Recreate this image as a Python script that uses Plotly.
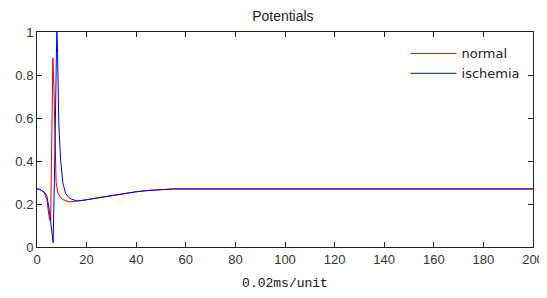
import plotly.graph_objects as go

# Data (x in 0.02 ms units)
normal_x = [0, 1, 2, 3, 4, 4.5, 5, 5.5, 6, 6.4, 6.8, 7.2, 7.7, 8.5, 9.5, 10.5, 11.5, 13, 15, 18, 20, 25, 30, 35, 40, 45, 50, 55, 200]
normal_y = [0.27, 0.268, 0.262, 0.25, 0.22, 0.18, 0.13, 0.12, 0.45, 0.88, 0.75, 0.5, 0.3, 0.25, 0.23, 0.22, 0.215, 0.21, 0.212, 0.216, 0.22, 0.23, 0.24, 0.25, 0.257, 0.263, 0.268, 0.27, 0.27]

ischemia_x = [0, 1, 2, 3, 4, 4.5, 5, 5.5, 6, 6.5, 7, 7.5, 8, 8.3, 8.8, 9.5, 10.4, 11.5, 12.8, 14, 16, 18, 20, 25, 30, 35, 40, 45, 50, 55, 200]
ischemia_y = [0.27, 0.268, 0.262, 0.255, 0.235, 0.21, 0.17, 0.12, 0.06, 0.02, 0.3, 0.7, 1.02, 0.9, 0.57, 0.41, 0.30, 0.25, 0.23, 0.222, 0.215, 0.216, 0.22, 0.23, 0.24, 0.25, 0.257, 0.263, 0.268, 0.27, 0.27]

x_ticks = [0, 20, 40, 60, 80, 100, 120, 140, 160, 180, 200]
y_ticks = [0, 0.2, 0.4, 0.6, 0.8, 1]
y_tick_text = ["0", "0.2", "0.4", "0.6", "0.8", "1"]

fig = go.Figure()
fig.add_trace(go.Scatter(x=normal_x, y=normal_y, mode="lines", name="normal",
                         line=dict(color="#e00000", width=1)))
fig.add_trace(go.Scatter(x=ischemia_x, y=ischemia_y, mode="lines", name="ischemia",
                         line=dict(color="#0000e0", width=1)))

axis_common = dict(showgrid=False, zeroline=False, showline=True, linecolor="#222",
                   linewidth=1, mirror="ticks", ticks="inside", ticklen=5, automargin=False,
                   tickcolor="#222", tickfont=dict(family="Liberation Sans, Arial", size=13, color="#333"))

# page body adds an 8px offset, so the figure is 8px smaller on each axis
fig.update_layout(
    width=539, height=290,
    margin=dict(l=29, r=14, t=24, b=51),
    paper_bgcolor="white", plot_bgcolor="white",
    title=dict(text="Potentials", x=0.51, xanchor="center", y=0.972, yanchor="middle",
               automargin=False,
               font=dict(family="Liberation Sans, Arial", size=14, color="#222")),
    xaxis=dict(range=[0, 200], tickvals=x_ticks,
               title=dict(text="0.02ms/unit", standoff=12,
                          font=dict(family="Liberation Mono, Courier New", size=13, color="#111")),
               **axis_common),
    yaxis=dict(range=[0, 1], tickvals=y_ticks, ticktext=y_tick_text, **axis_common),
    legend=dict(x=0.985, xanchor="right", y=0.97, yanchor="top", bgcolor="rgba(255,255,255,0)",
                borderwidth=0, itemwidth=46,
                font=dict(family="DejaVu Sans, Liberation Sans", size=13, color="#222"),
                tracegroupgap=0),
    showlegend=True,
)

fig.write_html("out.html")
